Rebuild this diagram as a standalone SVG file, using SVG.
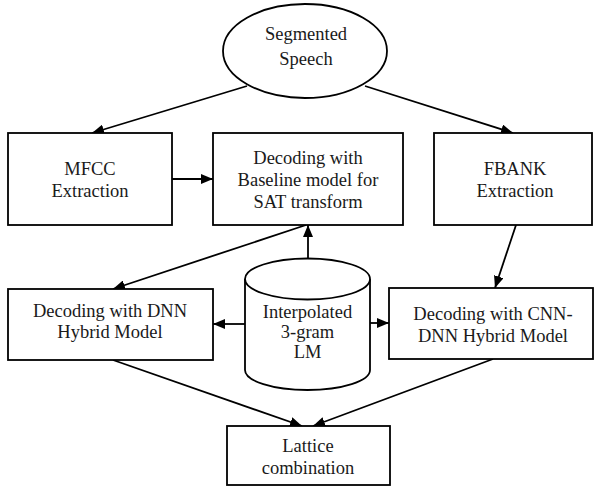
<svg xmlns="http://www.w3.org/2000/svg" width="594" height="486" viewBox="0 0 594 486">
<defs>
<marker id="ah" viewBox="0 0 12 10" refX="12" refY="5" markerWidth="12" markerHeight="10" markerUnits="userSpaceOnUse" orient="auto">
<path d="M0,0 L12,5 L0,10 Z" fill="#000"/>
</marker>
<style>
.n{fill:#fff;stroke:#000;stroke-width:1.8}
.t{font-family:"Liberation Serif","Times New Roman",serif;font-size:18.5px;fill:#1a1a1a;text-anchor:middle}
.c{fill:none;stroke:#000;stroke-width:1.8;marker-end:url(#ah)}
</style>
</defs>
<rect width="594" height="486" fill="#fff"/>
<g id="connectors">
<line class="c" x1="247" y1="86" x2="92" y2="133"/>
<line class="c" x1="365" y1="86" x2="513" y2="133"/>
<line class="c" x1="172" y1="179" x2="213" y2="179"/>
<line class="c" x1="308" y1="258" x2="308" y2="225"/>
<line class="c" x1="306" y1="225" x2="113" y2="289"/>
<line class="c" x1="516" y1="225" x2="495" y2="288"/>
<line class="c" x1="245" y1="324" x2="213" y2="324"/>
<line class="c" x1="370" y1="323" x2="389" y2="323"/>
<line class="c" x1="113" y1="360" x2="302" y2="426"/>
<line class="c" x1="493" y1="359" x2="313" y2="426"/>
</g>
<g id="segmented-speech">
<ellipse class="n" cx="305" cy="51" rx="82" ry="47"/>
<text class="t" x="306" y="40">Segmented</text>
<text class="t" x="306" y="65">Speech</text>
</g>
<g id="mfcc">
<rect class="n" x="8" y="133" width="164" height="92"/>
<text class="t" x="90" y="175">MFCC</text>
<text class="t" x="90" y="197">Extraction</text>
</g>
<g id="baseline">
<rect class="n" x="213" y="133" width="190" height="92"/>
<text class="t" x="308" y="164">Decoding with</text>
<text class="t" x="308" y="186">Baseline model for</text>
<text class="t" x="308" y="208">SAT transform</text>
</g>
<g id="fbank">
<rect class="n" x="434" y="133" width="158" height="92"/>
<text class="t" x="515" y="175">FBANK</text>
<text class="t" x="515" y="197">Extraction</text>
</g>
<g id="dnn">
<rect class="n" x="8" y="289" width="205" height="71"/>
<text class="t" x="110" y="317">Decoding with DNN</text>
<text class="t" x="110" y="338">Hybrid Model</text>
</g>
<g id="lm">
<path class="n" d="M245,279 L245,370 A62.5,20 0 0 0 370,370 L370,279"/>
<ellipse class="n" cx="307.5" cy="279" rx="62.5" ry="20.5"/>
<text class="t" x="307.5" y="318">Interpolated</text>
<text class="t" x="307.5" y="338">3-gram</text>
<text class="t" x="307.5" y="358">LM</text>
</g>
<g id="cnn-dnn">
<rect class="n" x="389" y="288" width="204" height="71"/>
<text class="t" x="493" y="320">Decoding with CNN-</text>
<text class="t" x="493" y="342">DNN Hybrid Model</text>
</g>
<g id="lattice">
<rect class="n" x="227" y="426" width="163" height="59"/>
<text class="t" x="308" y="452">Lattice</text>
<text class="t" x="308" y="474">combination</text>
</g>
</svg>
